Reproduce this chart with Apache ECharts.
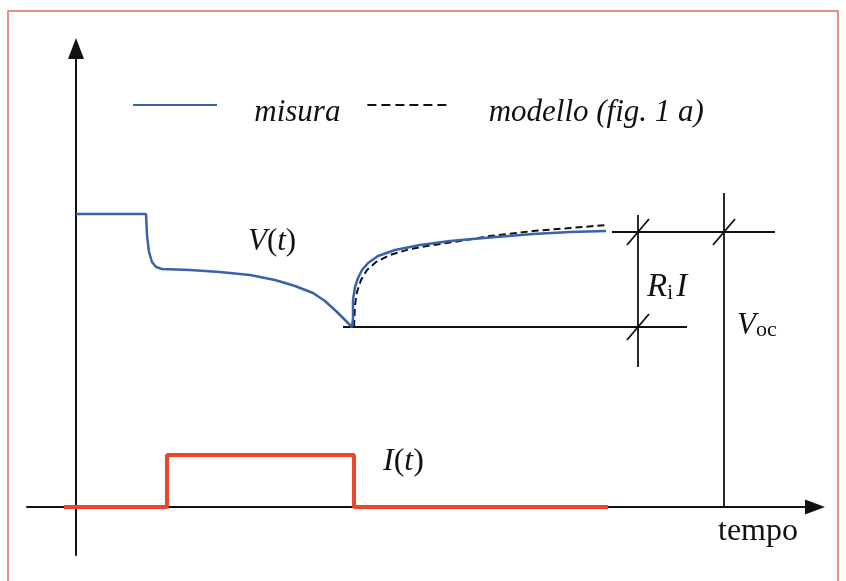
<!DOCTYPE html>
<html><head><meta charset="utf-8">
<script src="https://cdn.jsdelivr.net/npm/echarts@6/dist/echarts.min.js"></script>
<style>html,body{margin:0;padding:0;background:#fff}#c{width:846px;height:581px}</style>
</head><body><div id="c"></div>
<script>
// x = time (arbitrary units from origin), y = value (arbitrary units above the time axis)
const measuredV = [[0,293],[70,293],[71,272],[73,255],[76,245],[80,240],[86,238],[114,237],[144,235],[174,232],[199,227],[219,221],[237,214],[249,206],[261,195],[270,186],[276,180],
  [277,189],[277,207],[279,220],[282,229],[286,237],[292,244],[302,251],[319,257],[344,262],[374,266],[414,269.5],[457,273],[494,275],[530,276]];
const modelV = [[278,180],[279,202],[281,215],[285,227],[291,237],[300,245],[314,252],[334,258],[357,262],[384,266],[414,271],[457,276],[494,279],[531,282]];
const currentI = [[-12,0],[91,0],[91,52],[278,52],[278,0],[532,0]];
const refSegments = [
  [[267,180],[611,180]],
  [[536,275],[699,275]],
  [[562,292],[562,140]],
  [[648,314],[648,0]]
];
const tickSlashes = [
  [[551,262],[573,288]],
  [[551,167],[573,193]],
  [[637,262],[659,288]]
];
const seriesNames = ['misura', 'modello (fig. 1 a)', 'I(t)'];

const FONT = '"Liberation Serif", "Times New Roman", serif';
const chart = echarts.init(document.getElementById('c'), null, {renderer:'canvas'});

const refSeries = refSegments.concat(tickSlashes).map((seg, i) => ({
  type: 'line', name: 'ref' + i, data: seg, symbol: 'none', silent: true, z: 1,
  lineStyle: {color: '#111', width: 1.8}, animation: false
}));

chart.setOption({
  animation: false,
  backgroundColor: '#fff',
  grid: {left: 27, right: 31, top: 48.5, bottom: 26},
  xAxis: {type: 'value', min: -49, max: 739,
    axisLine: {onZero: true, symbol: ['none','triangle'], symbolSize: [15, 20], lineStyle: {color: '#111', width: 2}},
    axisTick: {show: false}, axisLabel: {show: false}, splitLine: {show: false}},
  yAxis: {type: 'value', min: -48, max: 458.5,
    axisLine: {show: true, onZero: true, symbol: ['none','triangle'], symbolSize: [16, 21], lineStyle: {color: '#111', width: 2}},
    axisTick: {show: false}, axisLabel: {show: false}, splitLine: {show: false}},
  legend: {
    data: [{name: seriesNames[0]}, {name: seriesNames[1], lineStyle: {type: [9, 5]}}],
    left: 127, top: 92, itemWidth: 84, itemHeight: 14, itemGap: 26,
    selectedMode: false,
    itemStyle: {opacity: 0, borderWidth: 0},
    formatter: n => '{sp| }{t|' + n + '}',
    textStyle: {fontFamily: FONT, fontStyle: 'italic', fontSize: 31, color: '#111', padding: [0,0,0,32],
      rich: {
        sp: {fontSize: 1, lineHeight: 46},
        t: {fontFamily: FONT, fontStyle: 'italic', fontSize: 31, color: '#111', lineHeight: 36, verticalAlign: 'bottom'}
      }}
  },
  series: refSeries.concat([
    {type: 'line', name: seriesNames[2], data: currentI, symbol: 'none', z: 3,
      lineStyle: {color: '#e8472e', width: 4}, itemStyle: {color: '#e8472e'}},
    {type: 'line', name: seriesNames[1], data: modelV, symbol: 'none', z: 4,
      lineStyle: {color: '#111', width: 2, type: [7, 4]}, itemStyle: {color: '#111'}},
    {type: 'line', name: seriesNames[0], data: measuredV, symbol: 'none', z: 5,
      lineStyle: {color: '#3a60b0', width: 2.5}, itemStyle: {color: '#3a60b0'}}
  ]),
  graphic: [
    {type: 'rect', shape: {x: 8, y: 11, width: 830, height: 620}, style: {fill: 'none', stroke: '#e06a6a', lineWidth: 1.5}, silent: true},
    {type: 'text', x: 718, y: 532, style: {text: 'tempo', font: '32px ' + FONT, fill: '#111', verticalAlign: 'middle'}},
    {type: 'text', x: 248, y: 242, style: {text: '{i|V}{r|(}{i|t}{r|)}', verticalAlign: 'middle',
      rich: {i: {fontFamily: FONT, fontStyle: 'italic', fontSize: 31, fill: '#111'}, r: {fontFamily: FONT, fontSize: 31, fill: '#111'}}}},
    {type: 'text', x: 383, y: 462, style: {text: '{i|I}{r|(}{i|t}{r|)}', verticalAlign: 'middle',
      rich: {i: {fontFamily: FONT, fontStyle: 'italic', fontSize: 32, fill: '#111'}, r: {fontFamily: FONT, fontSize: 32, fill: '#111'}}}},
    {type: 'text', x: 647, y: 287, style: {text: '{i|R}{s|i} {i|I}', verticalAlign: 'middle',
      rich: {i: {fontFamily: FONT, fontStyle: 'italic', fontSize: 33, fill: '#111'}, s: {fontFamily: FONT, fontSize: 21, fill: '#111', verticalAlign: 'bottom'}}}},
    {type: 'text', x: 737, y: 326, style: {text: '{i|V}{s|oc}', verticalAlign: 'middle',
      rich: {i: {fontFamily: FONT, fontStyle: 'italic', fontSize: 31, fill: '#111'}, s: {fontFamily: FONT, fontSize: 22, fill: '#111', verticalAlign: 'bottom'}}}}
  ]
});
</script></body></html>
